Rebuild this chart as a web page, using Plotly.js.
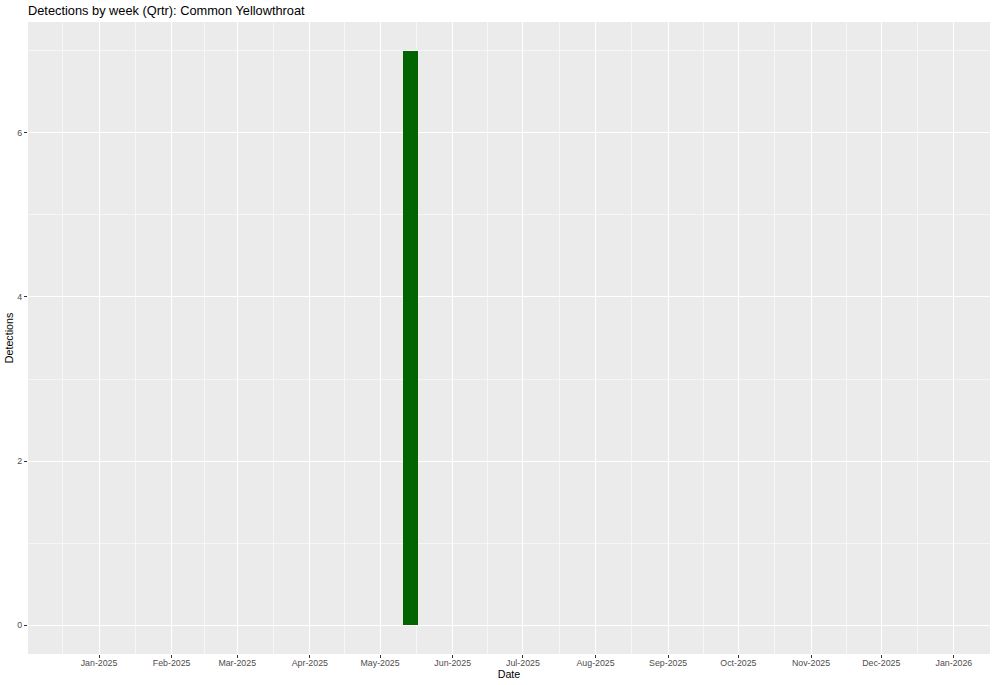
<!DOCTYPE html>
<html>
<head>
<meta charset="utf-8">
<script src="https://cdn.plot.ly/plotly-3.0.1.min.js"></script>
<style>
  html, body { margin: 0; padding: 0; background: #ffffff; }
  #chart { width: 1000px; height: 685px; }
</style>
</head>
<body>
<div id="chart"></div>
<script>
// ---- data ----
const weeks = ['2025-05-14'];
const detections = [7];

// ---- axis ticks ----
const monthTicks = ['2025-01-01','2025-02-01','2025-03-01','2025-04-01','2025-05-01','2025-06-01',
                    '2025-07-01','2025-08-01','2025-09-01','2025-10-01','2025-11-01','2025-12-01','2026-01-01'];
const monthLabels = ['Jan-2025','Feb-2025','Mar-2025','Apr-2025','May-2025','Jun-2025',
                     'Jul-2025','Aug-2025','Sep-2025','Oct-2025','Nov-2025','Dec-2025','Jan-2026'];
const monthBounds = ['2024-12-01'].concat(monthTicks, ['2026-02-01']);
const minorX = [];
for (let i = 0; i < monthBounds.length - 1; i++) {
  const a = new Date(monthBounds[i] + 'T00:00:00Z').getTime();
  const b = new Date(monthBounds[i + 1] + 'T00:00:00Z').getTime();
  minorX.push(new Date((a + b) / 2).toISOString().replace('T', ' ').replace('Z', ''));
}
const yTicks = [0, 2, 4, 6];
const yMinor = [1, 3, 5, 7];

const FONT = 'Liberation Sans, Arial, Helvetica, sans-serif';

const trace = {
  type: 'bar',
  x: weeks,
  y: detections,
  width: 6.5 * 86400000,
  marker: { color: '#006400', line: { width: 0 } },
  hoverinfo: 'x+y'
};

const layout = {
  width: 1000,
  height: 685,
  margin: { l: 28, r: 10, t: 22, b: 31, pad: 0 },
  paper_bgcolor: '#ffffff',
  plot_bgcolor: '#EBEBEB',
  showlegend: false,
  bargap: 0,
  title: {
    text: 'Detections by week (Qrtr): Common Yellowthroat',
    font: { family: FONT, size: 12.8, color: '#000000' },
    xref: 'paper', x: 0, xanchor: 'left',
    yref: 'container', y: 1 - 11 / 685, yanchor: 'middle'
  },
  xaxis: {
    type: 'date',
    range: ['2024-12-01 16:00', '2026-01-16 10:00'],
    tickmode: 'array',
    tickvals: monthTicks,
    ticktext: monthLabels,
    ticks: 'outside',
    ticklen: 3,
    tickwidth: 1,
    tickcolor: '#333333',
    ticklabelstandoff: -3,
    tickfont: { family: FONT, size: 8.8, color: '#4D4D4D' },
    showgrid: true,
    gridcolor: '#FFFFFF',
    gridwidth: 1,
    minor: { tickmode: 'array', tickvals: minorX, showgrid: true, gridcolor: '#FFFFFF', gridwidth: 0.55, ticks: '' },
    zeroline: false,
    showline: false,
    fixedrange: true,
    title: { text: 'Date', font: { family: FONT, size: 10.7, color: '#000000' }, standoff: 3 }
  },
  yaxis: {
    range: [-0.35, 7.35],
    tickmode: 'array',
    tickvals: yTicks,
    ticktext: yTicks.map(String),
    ticks: 'outside',
    ticklen: 3,
    tickwidth: 1,
    tickcolor: '#333333',
    tickfont: { family: FONT, size: 8.8, color: '#4D4D4D' },
    showgrid: true,
    gridcolor: '#FFFFFF',
    gridwidth: 1,
    minor: { tickmode: 'array', tickvals: yMinor, showgrid: true, gridcolor: '#FFFFFF', gridwidth: 0.55, ticks: '' },
    zeroline: false,
    showline: false,
    fixedrange: true,
    title: { text: 'Detections', font: { family: FONT, size: 10.7, color: '#000000' }, standoff: 1 }
  }
};

Plotly.newPlot('chart', [trace], layout, { displayModeBar: false, staticPlot: true });
</script>
</body>
</html>
